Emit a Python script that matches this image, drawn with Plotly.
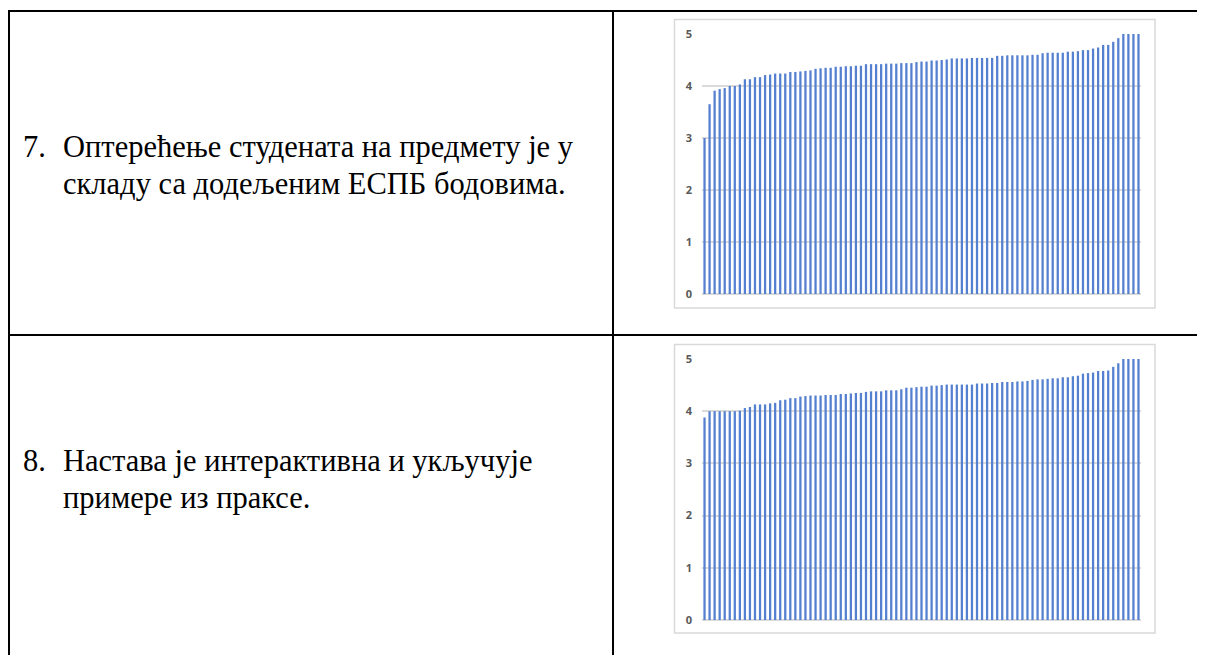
import plotly.graph_objects as go

# the page places the figure with an 8px body margin; design in screen pixels
OFF = 8
FW, FH = 1205, 655

q7_values = [
    3.00, 3.65, 3.91, 3.94, 3.96, 4.00, 4.00, 4.03, 4.13, 4.13,
    4.17, 4.17, 4.21, 4.22, 4.24, 4.24, 4.24, 4.27, 4.27, 4.28,
    4.29, 4.30, 4.33, 4.34, 4.35, 4.35, 4.37, 4.37, 4.38, 4.38,
    4.39, 4.39, 4.42, 4.42, 4.42, 4.42, 4.43, 4.43, 4.43, 4.44,
    4.44, 4.44, 4.46, 4.47, 4.47, 4.49, 4.49, 4.50, 4.51, 4.53,
    4.53, 4.53, 4.53, 4.54, 4.54, 4.54, 4.54, 4.54, 4.58, 4.58,
    4.59, 4.59, 4.59, 4.59, 4.59, 4.60, 4.60, 4.63, 4.64, 4.64,
    4.64, 4.64, 4.66, 4.66, 4.67, 4.69, 4.69, 4.72, 4.74, 4.79,
    4.79, 4.85, 4.92, 5.00, 5.00, 5.00, 5.00,
]

q8_values = [
    3.88, 4.00, 4.00, 4.00, 4.00, 4.00, 4.00, 4.01, 4.06, 4.08,
    4.13, 4.13, 4.13, 4.15, 4.16, 4.21, 4.22, 4.25, 4.25, 4.28,
    4.29, 4.30, 4.30, 4.30, 4.31, 4.31, 4.31, 4.33, 4.33, 4.34,
    4.35, 4.35, 4.37, 4.38, 4.38, 4.38, 4.40, 4.40, 4.40, 4.42,
    4.45, 4.45, 4.46, 4.47, 4.47, 4.49, 4.49, 4.50, 4.51, 4.51,
    4.51, 4.51, 4.51, 4.51, 4.53, 4.53, 4.53, 4.54, 4.54, 4.56,
    4.56, 4.56, 4.57, 4.57, 4.58, 4.60, 4.61, 4.61, 4.62, 4.63,
    4.63, 4.65, 4.65, 4.67, 4.68, 4.72, 4.73, 4.74, 4.77, 4.77,
    4.78, 4.85, 4.92, 5.00, 5.00, 5.00, 5.00,
]

y_ticks = [0, 1, 2, 3, 4, 5]

row_numbers = ["7.", "8."]
row_lines = [
    ["Оптерећење студената на предмету је у", "складу са додељеним ЕСПБ бодовима."],
    ["Настава је интерактивна и укључује", "примере из праксе."],
]

BAR_COLOR = "#5580d0"
GRID = "#dadada"
TICK_COLOR = "#595959"


def px_x(x):
    return (x - OFF) / FW


def px_y(y):
    return 1 - (y - OFF) / FH


fig = go.Figure()
fig.add_trace(go.Bar(x=list(range(len(q7_values))), y=q7_values,
                     marker=dict(color=BAR_COLOR, line=dict(width=0)),
                     xaxis="x", yaxis="y", showlegend=False))
fig.add_trace(go.Bar(x=list(range(len(q8_values))), y=q8_values,
                     marker=dict(color=BAR_COLOR, line=dict(width=0)),
                     xaxis="x2", yaxis="y2", showlegend=False))

x_dom = [px_x(702), px_x(1141)]
common_x = dict(domain=x_dom, showticklabels=False, showgrid=False,
                zeroline=False, showline=False, ticks="", automargin=False,
                range=[-0.5, len(q7_values) - 0.5])
common_y = dict(range=[0, 5], tickvals=y_ticks, showgrid=True, gridcolor=GRID,
                gridwidth=1.5, zeroline=True, zerolinecolor=GRID, zerolinewidth=1.5,
                showline=False, ticks="", automargin=False,
                tickfont=dict(family="Open Sans", size=11, color=TICK_COLOR,
                              weight="bold"),
                ticklabelstandoff=9)

fig.update_layout(
    template="none",
    width=FW, height=FH,
    margin=dict(l=0, r=0, t=0, b=0, pad=0, autoexpand=False),
    paper_bgcolor="white", plot_bgcolor="white",
    bargap=0.55,
    xaxis=dict(**common_x, anchor="y"),
    yaxis=dict(**common_y, domain=[px_y(294), px_y(34)], anchor="x"),
    xaxis2=dict(**common_x, anchor="y2"),
    yaxis2=dict(**common_y, domain=[px_y(620), px_y(359)], anchor="x2"),
)

shapes = []
line_black = dict(color="black", width=2)
# table borders
shapes.append(dict(type="line", xref="paper", yref="paper",
                   x0=px_x(8), x1=1, y0=px_y(11), y1=px_y(11), line=line_black))
shapes.append(dict(type="line", xref="paper", yref="paper",
                   x0=px_x(8), x1=1, y0=px_y(335), y1=px_y(335), line=line_black))
shapes.append(dict(type="line", xref="paper", yref="paper",
                   x0=px_x(9), x1=px_x(9), y0=px_y(10), y1=0, line=line_black))
shapes.append(dict(type="line", xref="paper", yref="paper",
                   x0=px_x(613), x1=px_x(613), y0=px_y(10), y1=0, line=line_black))
# chart frames
for (t, b) in [(19.5, 308), (344.5, 633)]:
    shapes.append(dict(type="rect", xref="paper", yref="paper",
                       x0=px_x(674.5), x1=px_x(1155), y0=px_y(b), y1=px_y(t),
                       line=dict(color="#d9d9d9", width=1.5), layer="below"))
fig.update_layout(shapes=shapes)

annotations = []
text_font = dict(family="Liberation Serif, Times New Roman, serif", size=30.5,
                 color="black")
row_line_y = [(147, 184), (461, 498)]
for num, lines, ys in zip(row_numbers, row_lines, row_line_y):
    annotations.append(dict(text=num, xref="paper", yref="paper",
                            x=px_x(21), y=px_y(ys[0]), xanchor="left", yanchor="middle",
                            showarrow=False, font=text_font))
    for ln, yy in zip(lines, ys):
        annotations.append(dict(text=ln, xref="paper", yref="paper",
                                x=px_x(61), y=px_y(yy), xanchor="left", yanchor="middle",
                                showarrow=False, font=text_font))
fig.update_layout(annotations=annotations)

fig.write_html("out.html")
